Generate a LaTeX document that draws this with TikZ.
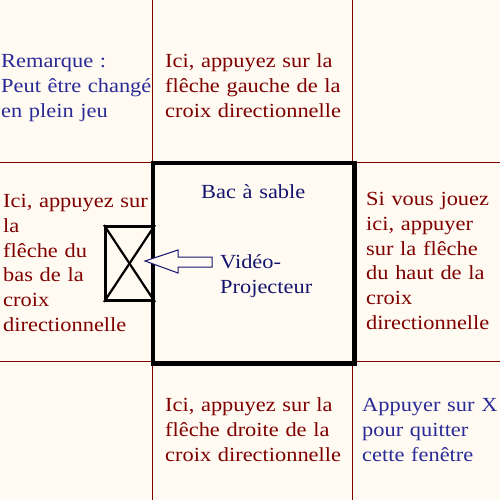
\documentclass[tikz,border=0pt]{standalone}
\usepackage{fontspec}
\setmainfont{Liberation Serif}[FakeStretch=1.12]
\definecolor{bgc}{HTML}{FFFBF2}
\definecolor{dred}{HTML}{800000}
\definecolor{navyt}{HTML}{14146E}
\definecolor{bluet}{HTML}{2A2A96}
\tikzset{
  grid line/.style={draw=dred, line width=1pt},
  thick box/.style={draw=black, line width=3pt},
  txt/.style={anchor=base west, inner sep=0pt, text width=200pt, align=left,
    font=\fontsize{20}{24.8}\selectfont},
  redt/.style={txt, text=dred},
  bluetx/.style={txt, text=bluet},
  navytx/.style={txt, text=navyt},
}
\begin{document}
\begin{tikzpicture}[x=1pt,y=-1pt]
\fill[bgc] (0,0) rectangle (500,500);
\useasboundingbox (0,0) rectangle (500,500);
% grid
\draw[grid line] (152,0) -- (152,500);
\draw[grid line] (352,0) -- (352,500);
\draw[grid line] (0,162) -- (500,162);
\draw[grid line] (0,361) -- (500,361);
% sandbox
\node[thick box, fill=bgc, minimum width=200pt, minimum height=199pt, anchor=north west, inner sep=0pt] (bac) at (152,162) {};
% projector
\node[thick box, fill=bgc, minimum width=48pt, minimum height=74pt, anchor=north west, inner sep=0pt] (proj) at (104,225) {};
\draw[line width=2.2pt] (proj.north west) -- (proj.south east);
\draw[line width=2.2pt] (proj.south west) -- (proj.north east);
\draw[thick box] (bac.north west) rectangle (bac.south east);
% arrow
\draw[draw=navyt, fill=bgc, line width=1pt, line join=miter]
  (145,261) -- (178,250) -- (178,257) -- (212,257) -- (212,267) -- (178,267) -- (178,273) -- cycle;
% texts
\node[bluetx] (rem) at (1,68) {Remarque :\\Peut être changé\\en plein jeu};
\node[redt] (gauche) at (165,68) {Ici, appuyez sur la\\flêche gauche de la\\croix directionnelle};
\node[redt] (bas) at (3,207.5) {Ici, appuyez sur\\la\\flêche du\\bas de la\\croix\\directionnelle};
\node[redt] (haut) at (366,205.5) {Si vous jouez\\ici, appuyer\\sur la flêche\\du haut de la\\croix\\directionnelle};
\node[navytx, text width=110pt] (bactxt) at (201,198) {Bac à sable};
\node[navytx, text width=110pt] (video) at (220,268.5) {Vidéo-\\Projecteur};
\node[redt] (droite) at (165,411.5) {Ici, appuyez sur la\\flêche droite de la\\croix directionnelle};
\node[bluetx] (quit) at (362,411.5) {Appuyer sur X\\pour quitter\\cette fenêtre};
\end{tikzpicture}
\end{document}
